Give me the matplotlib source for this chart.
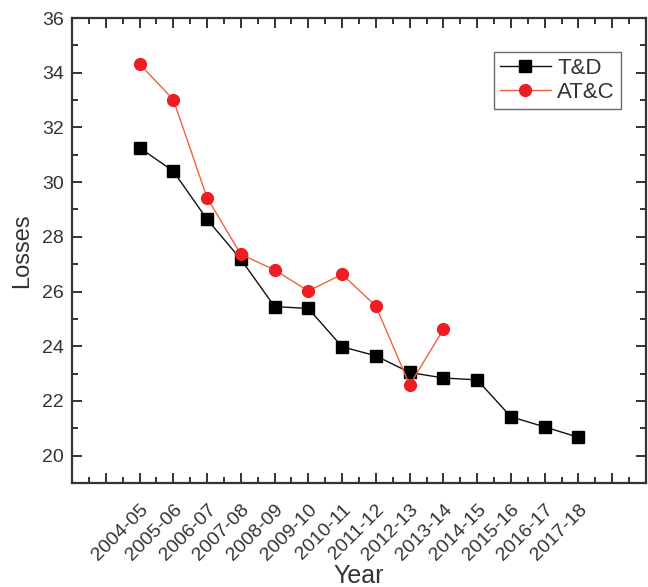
import matplotlib
matplotlib.use("Agg")
import matplotlib.pyplot as plt
from matplotlib.ticker import MultipleLocator, FixedLocator

plt.rcParams['font.family'] = ['Liberation Sans', 'DejaVu Sans']

years = ["2004-05", "2005-06", "2006-07", "2007-08", "2008-09", "2009-10", "2010-11",
         "2011-12", "2012-13", "2013-14", "2014-15", "2015-16", "2016-17", "2017-18"]
td = [31.26, 30.40, 28.64, 27.18, 25.45, 25.38, 23.98, 23.65, 23.04, 22.84, 22.77, 21.42, 21.05, 20.67]
atc = [34.32, 33.02, 29.43, 27.36, 26.79, 26.02, 26.63, 25.47, 22.58, 24.62]

fig = plt.figure(figsize=(6.48, 5.87), dpi=100)
ax = fig.add_axes([72/648, 1-483/587, (646-72)/648, (483-18)/587])

x_td = list(range(len(td)))
x_atc = list(range(len(atc)))
ax.plot(x_td, td, color='#111111', lw=1.0, marker='s', ms=8, mfc='black', mec='black', label='T&D')
ax.plot(x_atc, atc, color='#f26040', lw=1.0, marker='o', ms=8.5, mfc='#ee1d23', mec='#ee1d23', label='AT&C')

ax.set_xlim(-2, 15)
ax.set_ylim(19, 36)
ax.xaxis.set_major_locator(FixedLocator(range(-1, 15)))
ax.xaxis.set_minor_locator(MultipleLocator(0.5))
ax.set_xticklabels([""] + years + [""], rotation=45, ha='right', rotation_mode='anchor')
ax.yaxis.set_major_locator(FixedLocator([20, 22, 24, 26, 28, 30, 32, 34, 36]))
ax.yaxis.set_minor_locator(MultipleLocator(1))

tc = '#333333'
for s in ax.spines.values():
    s.set_linewidth(1.6)
    s.set_color(tc)
ax.tick_params(which='both', direction='in', top=True, right=True, color=tc, width=1.4,
               labelsize=14, labelcolor=tc)
ax.tick_params(which='major', length=7)
ax.tick_params(which='minor', length=4)
ax.tick_params(axis='x', which='major', pad=13)
ax.tick_params(axis='y', which='major', pad=6)

ax.set_xlabel('Year', fontsize=18, color=tc, labelpad=0)
ax.set_ylabel('Losses', fontsize=17, color=tc, labelpad=6)

leg = ax.legend(loc='upper right', bbox_to_anchor=(0.975, 0.95), fontsize=16, frameon=True,
                fancybox=False, edgecolor='#444444', handlelength=2.3, borderpad=0.25,
                labelspacing=0.15, handletextpad=0.3)
leg.get_frame().set_linewidth(1.0)
for t in leg.get_texts():
    t.set_color(tc)

fig.savefig('out.png', dpi=100)
